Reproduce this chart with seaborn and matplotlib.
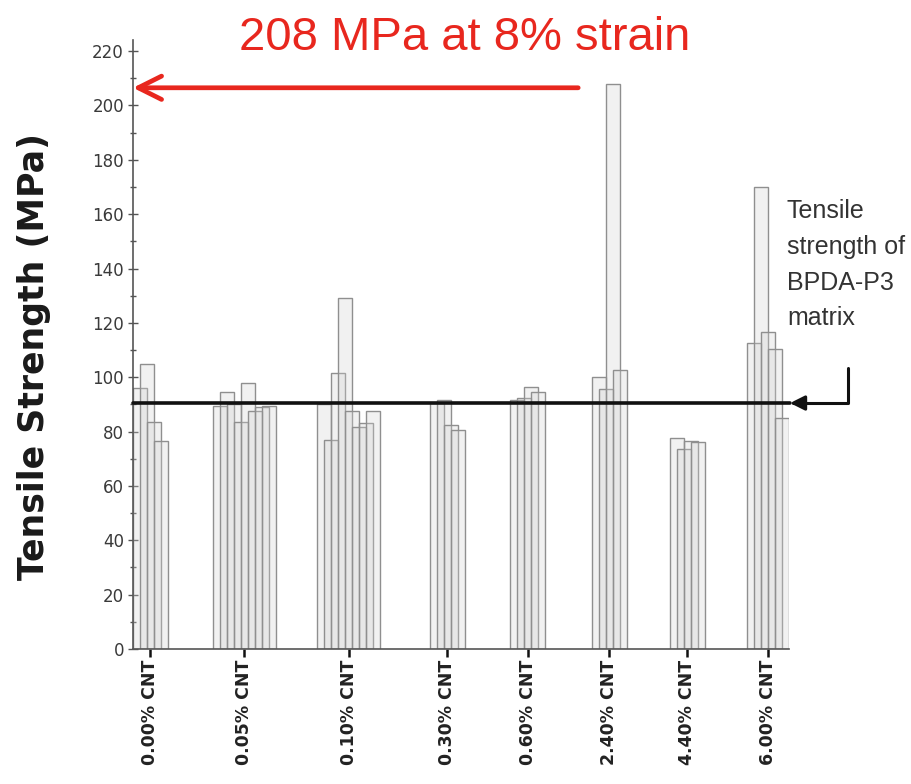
import numpy as np
import pandas as pd
import matplotlib
matplotlib.use("Agg")
import matplotlib.pyplot as plt
import seaborn as sns
from matplotlib.ticker import MultipleLocator

# ---------------- data ----------------
categories = ["0.00% CNT", "0.05% CNT", "0.10% CNT", "0.30% CNT",
              "0.60% CNT", "2.40% CNT", "4.40% CNT", "6.00% CNT"]
s000 = [96, 105, 83.5, 76.5]
s005 = [89.5, 94.5, 90, 83.5, 98, 87.5, 89, 89.5]
s010 = [90, 77, 101.5, 129, 87.5, 81.5, 83, 87.5]
s030 = [90.5, 91.5, 82.5, 80.5]
s060 = [91.5, 92.5, 96.5, 94.5]
s240 = [100, 95.5, 208, 102.5]
s440 = [77.5, 73.5, 76.5, 76]
s600 = [112.5, 170, 116.5, 110.5, 85]
specimens = [s000, s005, s010, s030, s060, s240, s440, s600]
matrix_strength = 90.5
peak_strength = 208
y_ticks = list(range(0, 221, 20))
title_text = "208 MPa at 8% strain"
matrix_label = "Tensile\nstrength of\nBPDA-P3\nmatrix"
y_label = "Tensile Strength (MPa)"

# ---------------- layout (slot units, one slot = bar step) ----------------
group_start = [1.0, 12.43, 27.29, 43.43, 54.86, 66.57, 77.71, 88.71]
x_max = 93.71
y_max = 224

rows = []
centers = []
for cat, start, vals in zip(categories, group_start, specimens):
    for i, v in enumerate(vals):
        rows.append({"pos": round(start + i, 3), "value": v, "group": cat})
    centers.append(start + (len(vals) - 1) / 2)
df = pd.DataFrame(rows)

sns.set_style("ticks")
plt.rcParams["font.family"] = ["DejaVu Sans"]

fig = plt.figure(figsize=(9.12, 7.84), dpi=100)
ax = fig.add_axes([0.1458, 0.1722, 0.7193, 0.7765])

sns.barplot(data=df, x="pos", y="value", native_scale=True, width=2.0,
            errorbar=None, color="#d8d8d8", ax=ax)
for p in ax.patches:
    p.set_facecolor((0.82, 0.82, 0.82, 0.30))
    p.set_edgecolor("#8f8f8f")
    p.set_linewidth(1.0)

ax.set_xlim(0, x_max)
ax.set_ylim(0, y_max)

ax.set_xticks(centers)
ax.set_xticklabels(categories, rotation=90, fontweight="bold", fontsize=12.5,
                   color="#222222")
ax.set_yticks(y_ticks)
ax.set_yticklabels([str(t) for t in y_ticks], fontsize=12, color="#3a3a3a")
ax.yaxis.set_minor_locator(MultipleLocator(10))
ax.tick_params(axis="y", which="major", direction="inout", length=7, width=1,
               color="#555555", pad=3)
ax.tick_params(axis="y", which="minor", direction="inout", length=4, width=1,
               color="#555555")
ax.tick_params(axis="x", which="major", direction="out", length=6, width=1.8,
               color="#111111", pad=2)
ax.set_xlabel("")
ax.set_ylabel(y_label, fontsize=25, fontweight="bold", color="#1a1a1a")
ax.yaxis.set_label_coords(-0.125, 0.48)

sns.despine(ax=ax)
for s in ("left", "bottom"):
    ax.spines[s].set_color("#555555")
    ax.spines[s].set_linewidth(1.2)

# matrix strength line with L-shaped arrow
line_end = 93.86
ax.plot([0, line_end], [matrix_strength, matrix_strength], color="#111111",
        lw=2.6, clip_on=False, zorder=5)
ax.annotate("", xy=(line_end, matrix_strength), xytext=(102.1, 103.5),
            xycoords="data", textcoords="data", annotation_clip=False,
            arrowprops=dict(arrowstyle="-|>", mutation_scale=22,
                            connectionstyle="angle,angleA=90,angleB=0,rad=0",
                            color="#111111", lw=2.2, shrinkA=0, shrinkB=0))
fig.text(787 / 912, 1 - 199 / 784, matrix_label, ha="left", va="top",
         fontsize=18, color="#333333", linespacing=1.62,
         family=["Liberation Sans"])

# red title + arrow
fig.text(465 / 912, 1 - 50 / 784, title_text, ha="center", va="baseline",
         fontsize=34, color="#e8271e", family=["Liberation Sans"])
ax.annotate("", xy=(0, 206.5), xytext=(63.6, 206.5), xycoords="data",
            textcoords="data", annotation_clip=False,
            arrowprops=dict(arrowstyle="->", mutation_scale=42, color="#e8271e",
                            lw=3.4, shrinkA=0, shrinkB=0))

fig.savefig("out.png", dpi=100)
